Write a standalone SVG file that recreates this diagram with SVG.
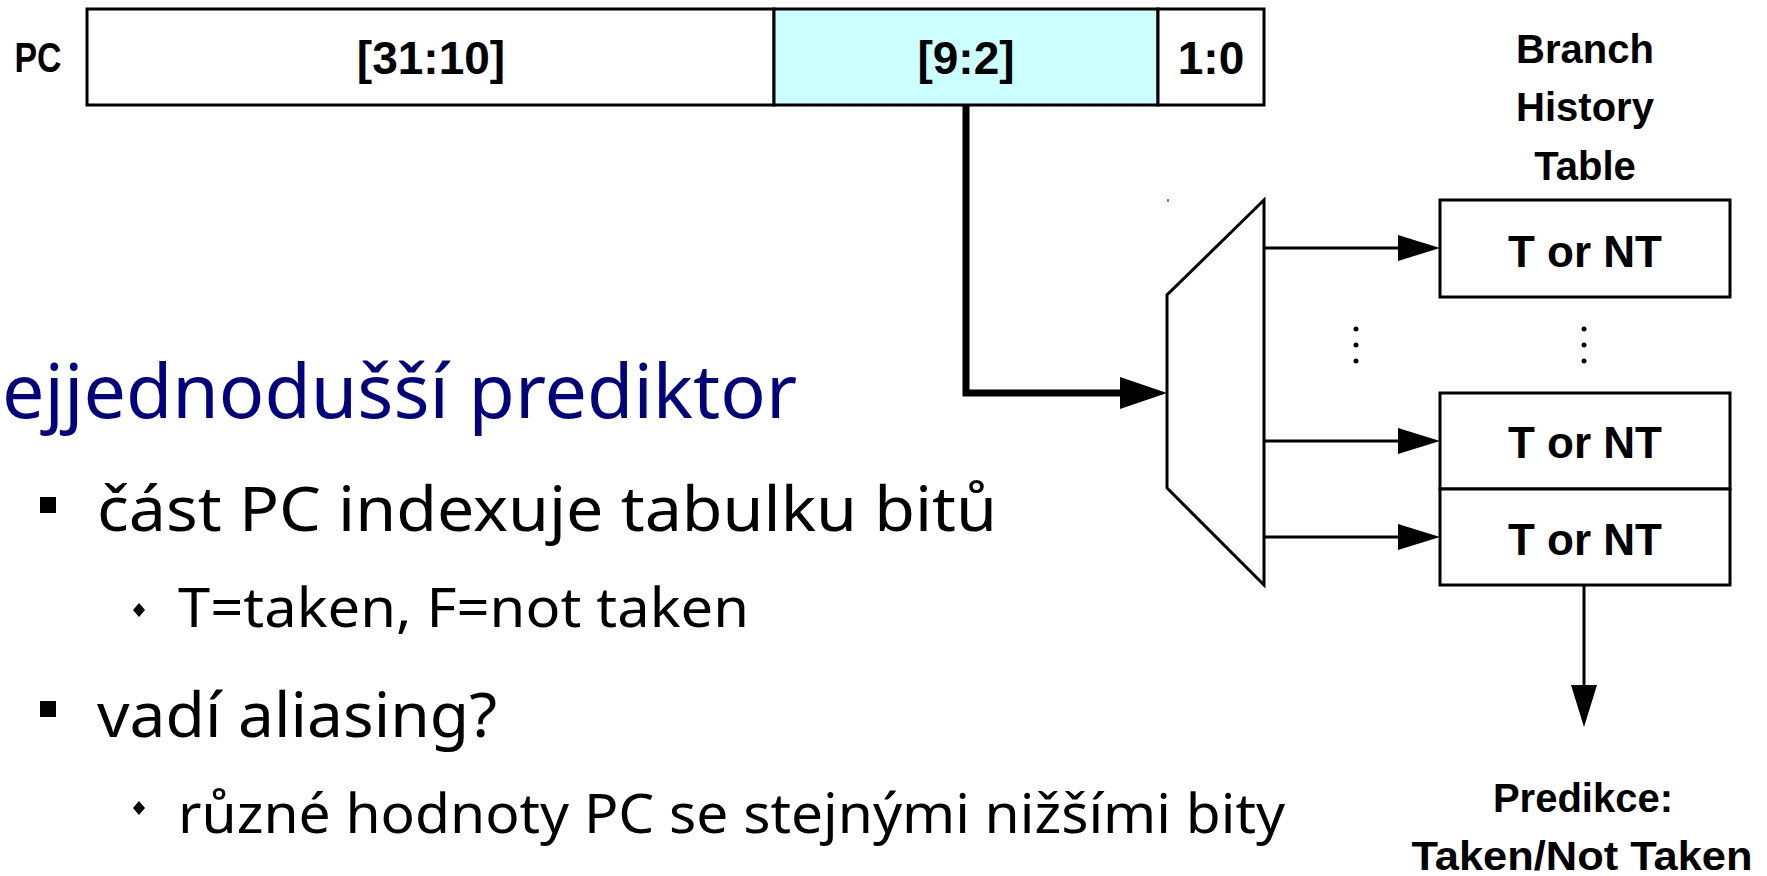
<svg xmlns="http://www.w3.org/2000/svg" width="1767" height="876" viewBox="0 0 1767 876">
<style>
.box{fill:#fff;stroke:#000;stroke-width:3}
.hl{fill:#ccffff;stroke:#000;stroke-width:3}
.b{font-family:"Liberation Sans",Arial,sans-serif;font-weight:bold;fill:#000;text-anchor:middle}
.t{font-family:"Noto Sans","Open Sans",sans-serif;fill:#000}
.title{font-family:"Noto Sans","Open Sans",sans-serif;fill:#000080}
.wire{fill:none;stroke:#000;stroke-width:3}
.thick{fill:none;stroke:#000;stroke-width:7}
</style>
<defs>
<marker id="ah" markerUnits="userSpaceOnUse" markerWidth="42" markerHeight="26" refX="22" refY="13" orient="auto">
<path d="M0,0 L42,13 L0,26 z" fill="#000"/>
</marker>
<marker id="ahT" markerUnits="userSpaceOnUse" markerWidth="47" markerHeight="32" refX="27" refY="16" orient="auto">
<path d="M0,0 L47,16 L0,32 z" fill="#000"/>
</marker>
</defs>

<g id="pc-label"><text class="b" x="38" y="72" font-size="42" textLength="47" lengthAdjust="spacingAndGlyphs">PC</text></g>
<g id="pc-high">
<rect class="box" x="87" y="9" width="687" height="96"/>
<text class="b" x="431" y="74" font-size="46">[31:10]</text>
</g>
<g id="pc-index">
<rect class="hl" x="774" y="9" width="384" height="96"/>
<text class="b" x="966" y="74" font-size="46">[9:2]</text>
</g>
<g id="pc-low">
<rect class="box" x="1158" y="9" width="106" height="96"/>
<text class="b" x="1211" y="74" font-size="46">1:0</text>
</g>

<g id="mux">
<polygon class="box" points="1264,200 1167,295 1167,488 1264,585"/>
<line x1="1168" y1="199" x2="1168" y2="202" stroke="#000" stroke-width="1"/>
</g>

<g id="bht-title">
<text class="b" x="1585" y="63" font-size="40">Branch</text>
<text class="b" x="1585" y="121" font-size="40">History</text>
<text class="b" x="1585" y="180" font-size="40">Table</text>
</g>
<g id="bht-row1">
<rect class="box" x="1440" y="200" width="290" height="97"/>
<text class="b" x="1585" y="267" font-size="44">T or NT</text>
</g>
<g id="bht-row2">
<rect class="box" x="1440" y="393" width="290" height="96"/>
<text class="b" x="1585" y="458" font-size="44">T or NT</text>
</g>
<g id="bht-row3">
<rect class="box" x="1440" y="489" width="290" height="96"/>
<text class="b" x="1585" y="555" font-size="44">T or NT</text>
</g>
<g id="dots" fill="#000">
<circle cx="1356" cy="329" r="2.5"/><circle cx="1356" cy="345" r="2.5"/><circle cx="1356" cy="361" r="2.5"/>
<circle cx="1584" cy="329" r="2.5"/><circle cx="1584" cy="345" r="2.5"/><circle cx="1584" cy="361" r="2.5"/>
</g>
<g id="prediction">
<text class="b" x="1583" y="812" font-size="40">Predikce:</text>
<text class="b" x="1582" y="870" font-size="40" textLength="341" lengthAdjust="spacingAndGlyphs">Taken/Not Taken</text>
</g>

<g id="connectors">
<polyline class="thick" points="966,105 966,393 1147,393" marker-end="url(#ahT)"/>
<line class="wire" x1="1264" y1="248" x2="1420" y2="248" marker-end="url(#ah)"/>
<line class="wire" x1="1264" y1="441" x2="1420" y2="441" marker-end="url(#ah)"/>
<line class="wire" x1="1264" y1="537" x2="1420" y2="537" marker-end="url(#ah)"/>
<line class="wire" x1="1584" y1="585" x2="1584" y2="707" marker-end="url(#ah)"/>
</g>

<g id="slide-text">
<text class="title" x="2" y="418" font-size="74" textLength="795" lengthAdjust="spacingAndGlyphs">ejjednodušší prediktor</text>
<rect x="40" y="497" width="16" height="16" fill="#000"/>
<text class="t" x="97" y="531" font-size="62" textLength="900" lengthAdjust="spacingAndGlyphs">část PC indexuje tabulku bitů</text>
<path d="M139,603 L145,610 L139,617 L133,610 z" fill="#000"/>
<text class="t" x="178" y="627" font-size="54" textLength="571" lengthAdjust="spacingAndGlyphs">T=taken, F=not taken</text>
<rect x="40" y="701" width="16" height="16" fill="#000"/>
<text class="t" x="97" y="737" font-size="62" textLength="400" lengthAdjust="spacingAndGlyphs">vadí aliasing?</text>
<path d="M139,801 L145,808 L139,815 L133,808 z" fill="#000"/>
<text class="t" x="178" y="833" font-size="54" textLength="1107" lengthAdjust="spacingAndGlyphs">různé hodnoty PC se stejnými nižšími bity</text>
</g>
</svg>
